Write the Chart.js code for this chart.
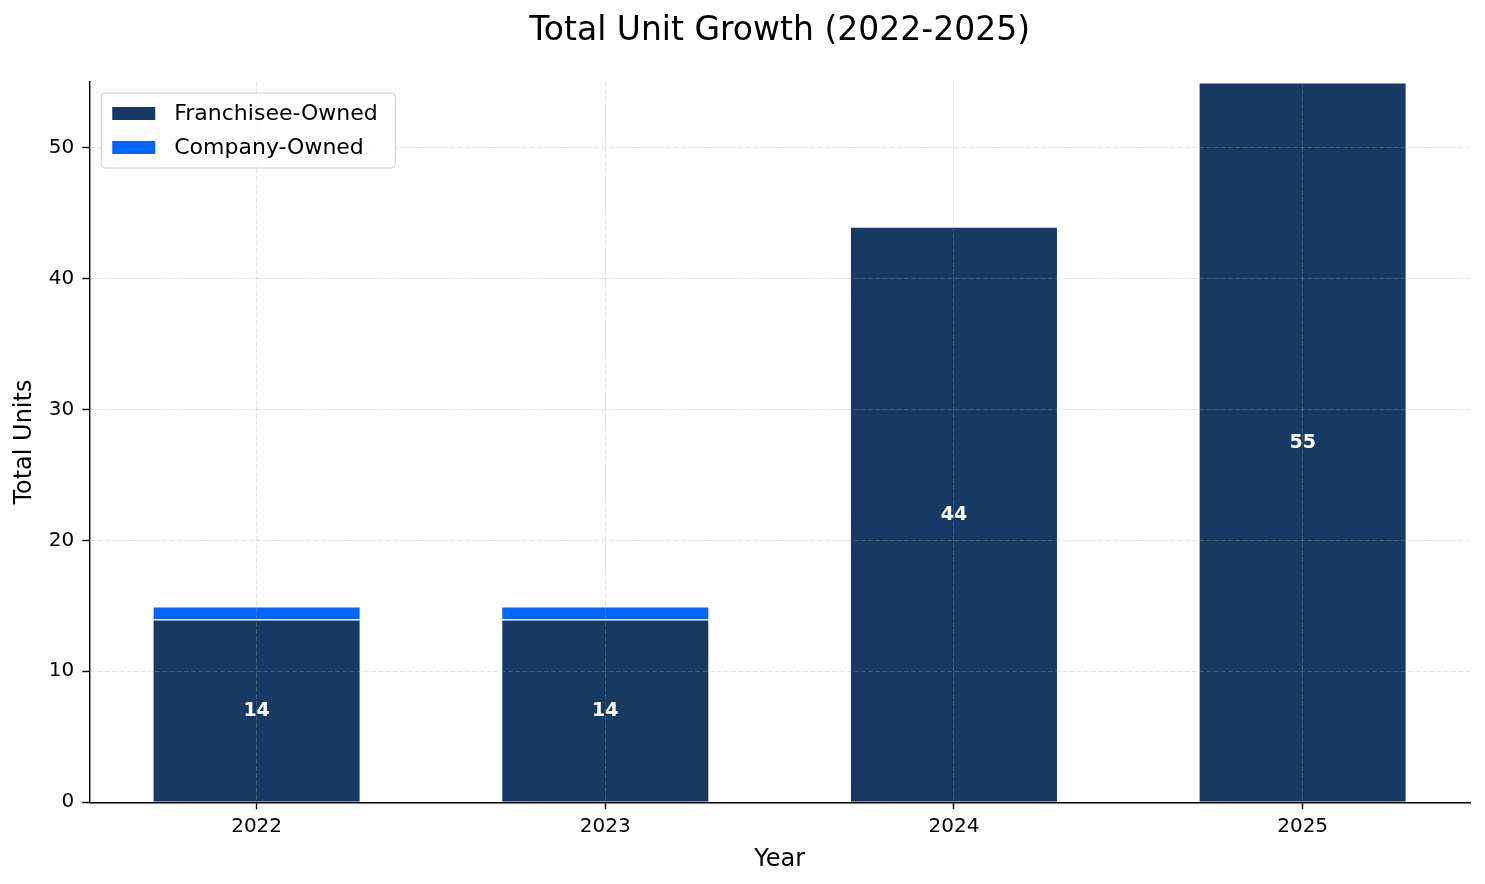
<!DOCTYPE html>
<html>
<head>
<meta charset="utf-8">
<script src="https://cdn.jsdelivr.net/npm/chart.js@4.4.1/dist/chart.umd.min.js"></script>
<style>
  html, body { margin: 0; padding: 0; background: #fff; }
  #wrap { width: 1485px; height: 884px; }
</style>
</head>
<body>
<div id="wrap"><canvas id="unitGrowth" width="1485" height="884"></canvas></div>
<script>
const years = ['2022', '2023', '2024', '2025']
const franchiseeOwned = [14, 14, 44, 55]
const companyOwned = [1, 1, 0, 0]
const yTicks = [0, 10, 20, 30, 40, 50]
const chartTitle = 'Total Unit Growth (2022-2025)'

const navy = '#163a63'
const brightBlue = '#0066ff'
const gridColor = 'rgba(165,165,165,0.32)'
const fontFamily = '"DejaVu Sans", sans-serif'

Chart.defaults.font.family = fontFamily
Chart.defaults.color = '#000'

// title centred over the plot area (matplotlib style), not over the canvas
const axesTitle = {
  id: 'axesTitle',
  afterDraw(chart) {
    const ctx = chart.ctx
    const area = chart.chartArea
    ctx.save()
    ctx.font = '33px ' + fontFamily
    ctx.fillStyle = '#000'
    ctx.textAlign = 'center'
    ctx.textBaseline = 'alphabetic'
    ctx.fillText(chartTitle, (area.left + area.right) / 2, 40)
    ctx.restore()
  },
}

// legend drawn inside the plot, top left, like the original
const boxLegend = {
  id: 'boxLegend',
  afterDraw(chart) {
    const ctx = chart.ctx
    const area = chart.chartArea
    const x = area.left + 12, y = area.top + 11
    const w = 294, h = 75
    ctx.save()
    ctx.beginPath()
    ctx.roundRect(x, y, w, h, 4)
    ctx.fillStyle = 'rgba(255,255,255,0.8)'
    ctx.fill()
    ctx.strokeStyle = '#cccccc'
    ctx.lineWidth = 1
    ctx.stroke()
    ctx.font = '22px ' + fontFamily
    ctx.textBaseline = 'middle'
    chart.data.datasets.forEach((ds, i) => {
      const cy = y + 20 + i * 34
      ctx.fillStyle = ds.backgroundColor
      ctx.fillRect(x + 11, cy - 6, 43, 13)
      ctx.fillStyle = '#000'
      ctx.fillText(ds.label, x + 73, cy + 1)
    })
    ctx.restore()
  },
}

// white value labels in the middle of the franchisee bars
const midLabels = {
  id: 'midLabels',
  afterDraw(chart) {
    const ctx = chart.ctx
    const meta = chart.getDatasetMeta(0)
    ctx.save()
    ctx.font = 'bold 19px ' + fontFamily
    ctx.fillStyle = '#fff'
    ctx.textAlign = 'center'
    ctx.textBaseline = 'middle'
    meta.data.forEach((bar, i) => {
      const { x, y, base } = bar.getProps(['x', 'y', 'base'], true)
      ctx.fillText(String(franchiseeOwned[i]), x, (y + base) / 2 + 1)
    })
    ctx.restore()
  },
}

new Chart(document.getElementById('unitGrowth'), {
  type: 'bar',
  data: {
    datasets: [
      {
        label: 'Franchisee-Owned',
        data: franchiseeOwned.map((v, i) => ({ x: i, y: v })),
        backgroundColor: navy,
        borderColor: '#fff',
        borderWidth: (c) => (c.raw && c.raw.y ? 1.6 : 0),
      },
      {
        label: 'Company-Owned',
        data: companyOwned.map((v, i) => ({ x: i, y: v })),
        backgroundColor: brightBlue,
        borderColor: '#fff',
        borderWidth: (c) => (c.raw && c.raw.y ? 1.6 : 0),
      },
    ],
  },
  options: {
    responsive: false,
    animation: false,
    devicePixelRatio: 1,
    barPercentage: 0.6,
    categoryPercentage: 1,
    layout: { padding: { left: 4, right: 15, top: 82, bottom: 10 } },
    plugins: {
      legend: { display: false },
      tooltip: { enabled: false },
      title: { display: false },
    },
    scales: {
      x: {
        type: 'linear',
        stacked: true,
        min: -0.48,
        max: 3.48,
        offset: false,
        afterBuildTicks: (s) => { s.ticks = years.map((y, i) => ({ value: i })) },
        ticks: { callback: (v) => years[v], font: { size: 20 }, color: '#000', padding: 6, maxRotation: 0 },
        grid: { z: 1, offset: false, color: gridColor, lineWidth: 1, tickColor: '#000', tickLength: 7, tickWidth: 1.4, tickBorderDash: [] },
        border: { z: 2, display: true, color: '#000', width: 1.4, dash: [5, 2.2] },
        title: { display: true, text: 'Year', font: { size: 24 }, color: '#000', padding: { top: 0, bottom: 0 } },
      },
      y: {
        stacked: true,
        min: 0,
        max: 55,
        afterBuildTicks: (s) => { s.ticks = yTicks.map((v) => ({ value: v })) },
        ticks: { font: { size: 20 }, color: '#000', padding: 8 },
        grid: { z: 1, color: gridColor, lineWidth: 1, tickColor: '#000', tickLength: 7, tickWidth: 1.4, tickBorderDash: [] },
        border: { z: 2, display: true, color: '#000', width: 1.4, dash: [5, 2.2] },
        title: { display: true, text: 'Total Units', font: { size: 24 }, color: '#000', padding: { top: 6, bottom: 2 } },
      },
    },
  },
  plugins: [axesTitle, boxLegend, midLabels],
})
</script>
</body>
</html>
